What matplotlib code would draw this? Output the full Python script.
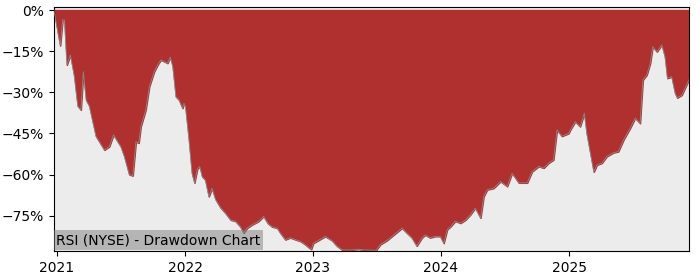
import pandas as pd
import matplotlib
matplotlib.use("Agg")
import matplotlib.pyplot as plt
import matplotlib.dates as mdates
from matplotlib.ticker import PercentFormatter

# -------------------------------------------------------------------
# Drawdown data
# -------------------------------------------------------------------
ticker_label = "RSI (NYSE) - Drawdown Chart"

dates = [
    "2020-12-23", "2021-01-10", "2021-01-17", "2021-01-22", "2021-01-29",
    "2021-02-08", "2021-02-19", "2021-03-01", "2021-03-10", "2021-03-17",
    "2021-03-25", "2021-04-03", "2021-04-22", "2021-05-16", "2021-05-30",
    "2021-06-11", "2021-07-02", "2021-07-12", "2021-07-26", "2021-08-05",
    "2021-08-14", "2021-08-22", "2021-08-28", "2021-09-11", "2021-09-21",
    "2021-10-05", "2021-10-15", "2021-10-24", "2021-11-03", "2021-11-12",
    "2021-11-20", "2021-11-27", "2021-12-06", "2021-12-15", "2021-12-25",
    "2021-12-29", "2022-01-02", "2022-01-12", "2022-01-21", "2022-01-28",
    "2022-02-05", "2022-02-12", "2022-02-19", "2022-02-28", "2022-03-10",
    "2022-03-19", "2022-03-29", "2022-04-12", "2022-04-26", "2022-05-11",
    "2022-05-25", "2022-06-08", "2022-06-17", "2022-06-27", "2022-07-11",
    "2022-07-30", "2022-08-13", "2022-08-25", "2022-09-06", "2022-09-21",
    "2022-09-30", "2022-10-14", "2022-10-28", "2022-11-12", "2022-11-26",
    "2022-12-10", "2022-12-20", "2022-12-27", "2023-01-02", "2023-01-16",
    "2023-02-05", "2023-02-24", "2023-03-10", "2023-03-25", "2023-04-17",
    "2023-05-10", "2023-06-02", "2023-06-30", "2023-07-12", "2023-07-31",
    "2023-08-19", "2023-09-12", "2023-09-26", "2023-10-10", "2023-10-24",
    "2023-11-08", "2023-11-17", "2023-12-01", "2023-12-15", "2023-12-30",
    "2024-01-09", "2024-01-19", "2024-01-28", "2024-02-11", "2024-02-26",
    "2024-03-11", "2024-03-25", "2024-04-08", "2024-04-23", "2024-05-02",
    "2024-05-12", "2024-05-30", "2024-06-19", "2024-07-08", "2024-07-22",
    "2024-08-10", "2024-09-03", "2024-09-17", "2024-10-06", "2024-10-20",
    "2024-11-03", "2024-11-17", "2024-11-27", "2024-12-11", "2024-12-30",
    "2025-01-04", "2025-01-18", "2025-02-01", "2025-02-13", "2025-02-20",
    "2025-03-02", "2025-03-12", "2025-03-21", "2025-04-04", "2025-04-18",
    "2025-05-07", "2025-05-21", "2025-06-05", "2025-06-24", "2025-07-08",
    "2025-07-22", "2025-07-30", "2025-08-10", "2025-08-20", "2025-08-27",
    "2025-09-08", "2025-09-22", "2025-10-01", "2025-10-08", "2025-10-20",
    "2025-10-30", "2025-11-05", "2025-11-18", "2025-11-27", "2025-12-08",
]

drawdown = [
    0.0, -13.0, -3.6, -3.6, -20.0,
    -16.4, -24.0, -35.0, -36.4, -22.5,
    -32.8, -35.0, -46.0, -51.0, -49.8,
    -45.5, -49.8, -53.4, -60.0, -60.4,
    -48.0, -48.5, -42.5, -36.4, -28.0,
    -22.5, -20.0, -18.2, -18.8, -19.4,
    -17.2, -20.6, -31.6, -32.8, -35.8,
    -34.0, -35.0, -47.0, -59.5, -63.0,
    -58.0, -57.0, -60.7, -62.0, -68.0,
    -65.0, -69.0, -72.0, -74.0, -76.5,
    -77.0, -79.0, -81.3, -79.5, -78.3,
    -77.0, -75.2, -77.7, -79.0, -79.5,
    -81.3, -83.7, -83.0, -83.7, -84.3,
    -85.5, -86.6, -87.2, -85.0, -84.0,
    -82.5, -84.0, -86.0, -87.4, -87.5,
    -87.2, -87.5, -87.6, -85.5, -84.0,
    -82.0, -79.5, -81.3, -83.0, -86.0,
    -83.0, -82.0, -83.0, -82.5, -82.5,
    -85.0, -80.0, -79.0, -77.0, -77.7,
    -76.5, -74.6, -72.2, -75.8, -68.0,
    -65.5, -65.0, -62.5, -64.3, -59.5,
    -63.0, -63.0, -58.9, -57.0, -57.6,
    -55.8, -54.6, -43.7, -46.0, -45.0,
    -43.7, -40.7, -42.5, -37.6, -45.0,
    -52.0, -59.0, -56.5, -55.8, -53.4,
    -52.0, -51.6, -47.3, -43.0, -39.4,
    -41.3, -25.5, -23.7, -19.4, -13.4,
    -15.2, -12.7, -17.0, -24.9, -24.3,
    -30.3, -32.0, -31.0, -28.5, -25.5,
]

df = pd.DataFrame({"date": pd.to_datetime(dates), "drawdown": drawdown})

# -------------------------------------------------------------------
# Plot
# -------------------------------------------------------------------
fig = plt.figure(figsize=(7, 2.8), dpi=100)
ax = fig.add_axes([0.077, 0.104, 0.907, 0.871])
ax.set_facecolor("#ececec")

ax.fill_between(df["date"], df["drawdown"], 0, color="#b03030", zorder=2)
ax.plot(df["date"], df["drawdown"], color="#8a8a8a", linewidth=0.6, zorder=3)

ax.set_xlim(df["date"].min(), df["date"].max())
ax.set_ylim(-87.8, 1.1)
ax.set_yticks([0, -15, -30, -45, -60, -75])
ax.yaxis.set_major_formatter(PercentFormatter(xmax=100, decimals=0))
ax.xaxis.set_major_locator(mdates.YearLocator())
ax.xaxis.set_major_formatter(mdates.DateFormatter("%Y"))

ax.text(0.004, 0.015, ticker_label, transform=ax.transAxes, fontsize=10,
        ha="left", va="bottom", zorder=5,
        bbox=dict(facecolor="grey", alpha=0.5, edgecolor="none", pad=2))

fig.savefig("out.png", dpi=100)
